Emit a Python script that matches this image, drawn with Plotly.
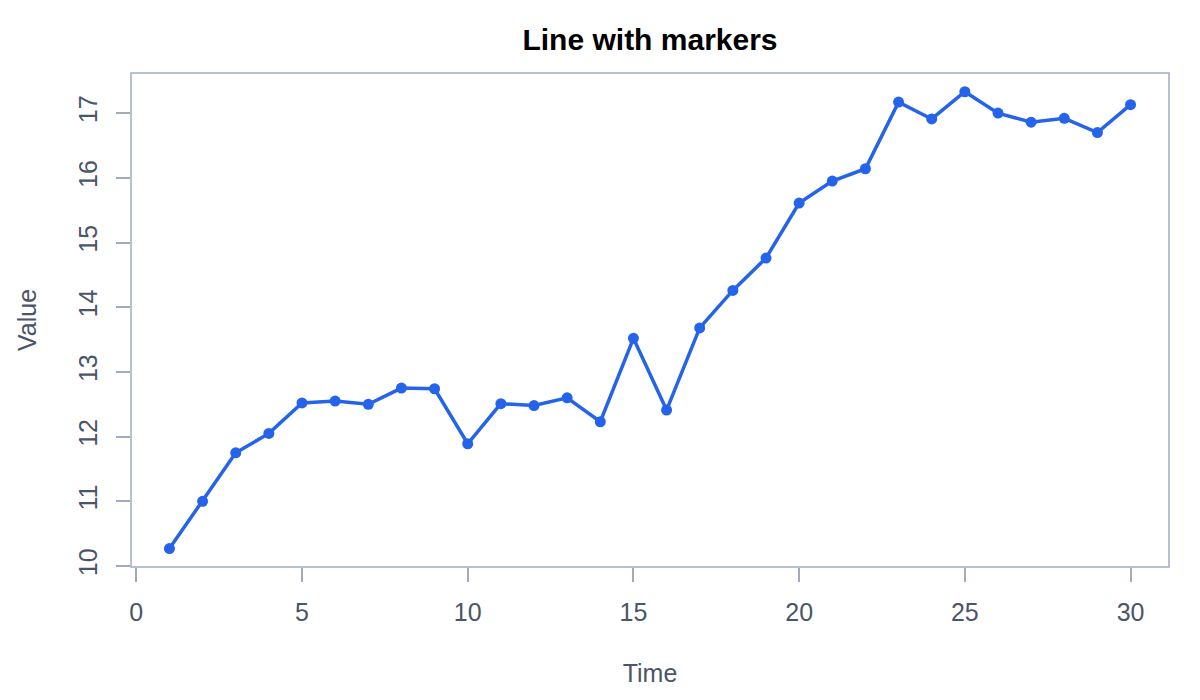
import plotly.graph_objects as go

time = list(range(1, 31))
value = [10.27, 11.00, 11.75, 12.05, 12.52, 12.55, 12.50, 12.75, 12.74, 11.89,
         12.51, 12.48, 12.60, 12.23, 13.52, 12.41, 13.68, 14.26, 14.76, 15.61,
         15.95, 16.14, 17.17, 16.91, 17.33, 17.00, 16.86, 16.92, 16.70, 17.13]
x_ticks = [0, 5, 10, 15, 20, 25, 30]
y_ticks = [10, 11, 12, 13, 14, 15, 16, 17]

BLUE = "#2563eb"
GRAY = "#a0acbe"
TEXT = "#4a5568"
FONT = "Liberation Sans"

fig = go.Figure()
fig.add_trace(go.Scatter(
    x=time, y=value, mode="lines+markers",
    line=dict(color=BLUE, width=3.5),
    marker=dict(color=BLUE, size=11),
    showlegend=False, hoverinfo="skip",
))

fig.update_layout(
    width=1200, height=700,
    paper_bgcolor="white", plot_bgcolor="white",
    margin=dict(l=123, r=39, t=65, b=141),
    font=dict(family=FONT, color=TEXT, size=25),
    title=dict(text="<b>Line with markers</b>", x=(650 - 8) / 1200, xanchor="center",
               y=1 - 31 / 700, yanchor="middle",
               font=dict(family=FONT, size=30, color="#000000")),
    xaxis=dict(range=[-0.16, 31.16], tickvals=x_ticks, showgrid=False,
               zeroline=False, showline=False, ticks="outside", ticklen=14,
               tickwidth=1.5, tickcolor=GRAY, ticklabelstandoff=9,
               tickfont=dict(family=FONT, size=25, color=TEXT),
               title=dict(text="Time", standoff=39,
                          font=dict(family=FONT, size=25, color=TEXT))),
    yaxis=dict(range=[9.985, 17.62], tickvals=y_ticks, showgrid=False,
               zeroline=False, showline=False, ticks="outside", ticklen=14,
               tickwidth=1.5, tickcolor=GRAY, tickangle=-90, ticklabelstandoff=9,
               tickfont=dict(family=FONT, size=25, color=TEXT),
               title=dict(text="Value", standoff=30,
                          font=dict(family=FONT, size=25, color=TEXT))),
    shapes=[dict(type="rect", xref="paper", yref="paper", x0=0, x1=1, y0=0, y1=1,
                 line=dict(color=GRAY, width=1.5), fillcolor="rgba(0,0,0,0)",
                 layer="above")],
)

fig.write_html("out.html")
